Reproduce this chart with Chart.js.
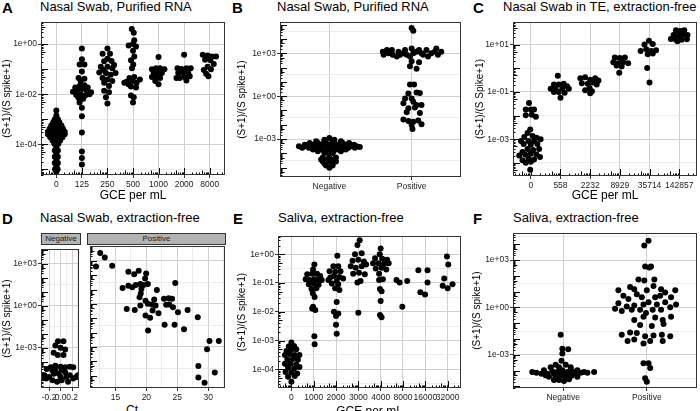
<!DOCTYPE html>
<html>
<head>
<meta charset="utf-8">
<script src="https://cdn.jsdelivr.net/npm/chart.js@4"></script>
<style>
body{margin:0;background:#fff;}
#fig{position:relative;width:700px;height:411px;overflow:hidden;font-family:"Liberation Sans",Arial,sans-serif;}
#fig canvas{position:absolute;}
.lbl{position:absolute;font-size:15px;font-weight:bold;line-height:15px;color:#000;}
.ttl{position:absolute;font-size:13px;line-height:14px;color:#000;white-space:nowrap;}
.strip{position:absolute;background:#b3b3b3;border:1px solid #333;box-sizing:border-box;font-size:8px;text-align:center;line-height:10px;color:#1a1a1a;}
</style>
</head>
<body>
<div id="fig">
  <div class="lbl" style="left:2px;top:0px">A</div><div class="ttl" style="left:40px;top:0px">Nasal Swab, Purified RNA</div>
  <div class="lbl" style="left:232px;top:0px">B</div><div class="ttl" style="left:277px;top:0px">Nasal Swab, Purified RNA</div>
  <div class="lbl" style="left:473px;top:0px">C</div><div class="ttl" style="left:503px;top:0px">Nasal Swab in TE, extraction-free</div>
  <div class="lbl" style="left:2px;top:211px">D</div><div class="ttl" style="left:40px;top:211px">Nasal Swab, extraction-free</div>
  <div class="lbl" style="left:233px;top:211px">E</div><div class="ttl" style="left:278px;top:211px">Saliva, extraction-free</div>
  <div class="lbl" style="left:473px;top:211px">F</div><div class="ttl" style="left:513px;top:211px">Saliva, extraction-free</div>
  <div class="strip" style="left:41px;top:233px;width:40px;height:12px">Negative</div>
  <div class="strip" style="left:87px;top:233px;width:139px;height:12px">Positive</div>
  <div class="ttl" style="left:126px;top:403px;font-size:12px">Ct</div>
</div>
<script>
// values: [offset within group, log10 of (S+1)/(S spike+1)]
const aCats = ['0', '125', '250', '500', '1000', '2000', '8000'];
const a0 = [[0,-2.65],[0,-2.85],[-0.06,-3.0],[0.06,-3.0],[-0.12,-3.12],[0,-3.12],[0.12,-3.12],
  [-0.2,-3.25],[-0.07,-3.25],[0.07,-3.25],[0.2,-3.25],[-0.26,-3.38],[-0.13,-3.38],[0,-3.38],[0.13,-3.38],[0.26,-3.38],
  [-0.33,-3.5],[-0.22,-3.5],[-0.11,-3.5],[0,-3.5],[0.11,-3.5],[0.22,-3.5],[0.33,-3.5],
  [-0.33,-3.6],[-0.2,-3.6],[-0.07,-3.6],[0.07,-3.6],[0.2,-3.6],[0.33,-3.6],
  [-0.24,-3.72],[-0.12,-3.72],[0,-3.72],[0.12,-3.72],[0.24,-3.72],[-0.15,-3.85],[-0.05,-3.85],[0.05,-3.85],[0.15,-3.85],
  [-0.08,-3.98],[0.08,-3.98],[0,-4.12],[-0.06,-4.25],[0.06,-4.25],[0,-4.38],[-0.06,-4.5],[0.06,-4.5],[0,-4.62],
  [-0.06,-4.75],[0.06,-4.75],[0,-4.88],[-0.05,-5.0],[0.05,-5.0],[0,-5.1]];
const a1 = [[0,-0.17],[0,-0.6],[-0.09,-0.81],[0.1,-0.81],[0,-1.09],[-0.13,-1.35],[0.1,-1.38],[-0.05,-1.47],[-0.09,-1.67],[0.1,-1.64],
  [-0.26,-1.73],[0.23,-1.73],[-0.35,-1.9],[-0.18,-1.82],[0,-1.79],[0.19,-1.86],[0.36,-1.92],[-0.22,-2.03],[-0.05,-2.0],[0.13,-2.05],
  [0.3,-2.0],[-0.13,-2.15],[0.05,-2.18],[-0.09,-2.33],[0,-2.54],[0,-2.88],[0,-3.53],[0,-4.29],[0,-4.55],[0,-4.81]];
const a2 = [[0,-0.17],[-0.19,-0.38],[0.1,-0.38],[0,-0.58],[-0.13,-0.68],[0.16,-0.67],[-0.26,-0.9],[0,-0.9],[0.26,-0.83],[-0.16,-1.03],
  [0.19,-0.96],[-0.32,-1.13],[-0.06,-1.15],[0.32,-1.15],[0.13,-1.22],[-0.19,-1.35],[0,-1.41],[0.19,-1.47],[-0.13,-1.54],[0.06,-1.67],
  [-0.13,-1.86],[0.06,-1.92],[-0.06,-2.12],[0,-2.37]];
const a3 = [[-0.05,0.6],[0.03,0.45],[0.05,0.15],[0,0],[-0.17,-0.06],[0.12,-0.1],[0,-0.26],[0.05,-0.49],[-0.08,-0.64],[0.01,-0.81],
  [-0.04,-0.96],[-0.14,-1.35],[0.05,-1.31],[-0.34,-1.54],[-0.25,-1.5],[-0.18,-1.6],[-0.01,-1.47],[0.14,-1.54],[0.27,-1.41],
  [-0.08,-1.69],[0.12,-1.73],[-0.08,-2.05],[0.03,-2.12],[0,-2.33]];
const a4 = [[0,-0.51],[-0.26,-1.0],[-0.1,-0.96],[0.06,-0.96],[0.23,-1.0],[-0.19,-1.15],[0,-1.13],[0.13,-1.15],[-0.26,-1.31],
  [-0.1,-1.28],[0.06,-1.35],[-0.13,-1.47],[0,-1.6]];
const a5 = [[0,-0.42],[-0.26,-0.96],[-0.1,-0.99],[0.09,-0.96],[0.26,-0.96],[-0.23,-1.15],[-0.04,-1.15],[0.16,-1.13],[-0.3,-1.35],
  [-0.17,-1.35],[0.03,-1.32],[0.22,-1.28],[0.09,-1.45]];
const a6 = [[-0.27,-0.42],[-0.08,-0.45],[0.09,-0.49],[0.25,-0.49],[-0.18,-0.62],[0.03,-0.64],[0.16,-0.79],[-0.08,-0.9],
  [-0.23,-1.03],[0.05,-1.0],[-0.14,-1.18],[-0.05,-1.28]];

const bCats = ['Negative', 'Positive'];
const bNeg = [[0,-2.93],[-0.06,-3.05],[0.06,-3.05],[-0.16,-3.15],[-0.06,-3.15],[0.04,-3.15],[0.14,-3.15],
  [-0.24,-3.27],[-0.14,-3.27],[-0.04,-3.27],[0.06,-3.27],[0.16,-3.27],[0.24,-3.27],
  [-0.3,-3.4],[-0.2,-3.4],[-0.1,-3.4],[0,-3.4],[0.1,-3.4],[0.2,-3.4],[0.3,-3.4],
  [-0.37,-3.5],[-0.3,-3.5],[-0.23,-3.5],[-0.16,-3.5],[-0.09,-3.5],[-0.02,-3.5],[0.05,-3.5],[0.12,-3.5],[0.19,-3.5],[0.26,-3.5],[0.33,-3.5],[0.37,-3.55],
  [-0.33,-3.6],[-0.25,-3.6],[-0.17,-3.6],[-0.09,-3.6],[-0.01,-3.6],[0.07,-3.6],[0.15,-3.6],[0.23,-3.6],[0.31,-3.6],
  [-0.2,-3.72],[-0.1,-3.72],[0,-3.72],[0.1,-3.72],[0.2,-3.72],[-0.14,-3.85],[-0.05,-3.85],[0.05,-3.85],[0.14,-3.85],
  [-0.06,-3.98],[0.04,-3.98],[0,-4.12],[-0.08,-4.28],[0,-4.28],[0.08,-4.28],[-0.1,-4.42],[-0.02,-4.42],[0.06,-4.42],
  [-0.08,-4.56],[0,-4.56],[0.08,-4.56],[-0.06,-4.7],[0.04,-4.7],[-0.04,-4.84],[0.04,-4.84],[0,-5.0]];
const bPos = [[0,4.76],[0.02,4.58],[-0.35,3.11],[-0.34,2.89],[-0.3,3.23],[-0.28,3.0],[-0.24,3.23],[-0.23,2.89],[-0.18,2.77],
  [-0.16,3.11],[-0.14,2.89],[-0.1,3.0],[-0.08,3.23],[-0.06,2.89],[-0.02,2.77],[0,3.34],[0.02,3.0],[0.06,3.11],[0.09,3.23],
  [0.12,3.0],[0.14,2.89],[0.18,3.23],[0.2,2.77],[0.24,3.0],[0.28,3.11],[0.3,3.34],[0.32,2.89],[0.36,3.11],
  [0,2.44],[0.09,2.37],[-0.02,2.1],[0.06,1.92],[-0.02,0.81],[0.03,0.81],[-0.04,0.18],[0.06,0.25],[0.1,0.22],
  [-0.08,-0.16],[0,-0.16],[0.02,-0.39],[-0.1,-0.5],[0.06,-0.61],[0.12,-0.61],[-0.04,-0.84],[0.04,-0.79],
  [-0.06,-1.13],[0.1,-1.18],[-0.1,-1.63],[-0.04,-1.74],[0.02,-1.79],[0.08,-1.7],[0.12,-1.97],[0,-2.01],[0.01,-2.3]];

const cCats = ['0', '558', '2232', '8929', '35714', '142857'];
const c0 = [[-0.06,-1.47],[-0.17,-1.74],[0,-1.74],[0.11,-1.74],[-0.17,-1.98],[0.03,-1.96],[0.17,-2.05],[-0.02,-2.59],[-0.11,-2.73],
  [0.06,-2.86],[-0.22,-2.9],[0.19,-2.93],[-0.33,-3.07],[-0.08,-3.07],[0.11,-3.07],[0.33,-3.0],[-0.24,-3.2],[0,-3.23],[0.22,-3.2],
  [-0.11,-3.41],[0.08,-3.45],[0.28,-3.41],[-0.28,-3.54],[-0.19,-3.64],[0,-3.61],[0.19,-3.64],[-0.39,-3.68],[0.31,-3.75],
  [-0.08,-3.81],[0.11,-3.85],[-0.28,-3.88],[-0.17,-3.99],[0,-3.95],[-0.02,-4.29]];
const c1 = [[-0.09,-0.32],[-0.22,-0.69],[-0.06,-0.69],[0.11,-0.65],[0.22,-0.76],[-0.33,-0.87],[-0.17,-0.87],[0.06,-0.87],
  [0.28,-0.87],[-0.22,-1.0],[-0.06,-1.0],[0.14,-1.03],[0,-1.24]];
const c2 = [[-0.33,-0.42],[-0.17,-0.38],[0,-0.49],[0.17,-0.42],[0.28,-0.52],[-0.28,-0.63],[-0.08,-0.65],[0.09,-0.6],[0.22,-0.69],
  [-0.02,-0.83],[-0.17,-0.93],[0.06,-0.97],[0,-1.06]];
const c3 = [[-0.17,0.46],[0,0.43],[0.17,0.46],[-0.22,0.25],[-0.06,0.21],[0.11,0.25],[0.28,0.21],[-0.11,0.12],[0.06,0.08],[-0.02,-0.19]];
const c4 = [[-0.02,1.16],[-0.17,1.0],[0.11,1.03],[-0.3,0.73],[-0.11,0.8],[0.06,0.73],[0.22,0.76],[-0.06,0.59],[0.11,0.62],[-0.08,0.01],[0,-0.6]];
const c5 = [[-0.11,1.61],[0.03,1.57],[0.17,1.61],[-0.19,1.41],[-0.02,1.38],[0.11,1.41],[0.28,1.41],[-0.28,1.24],[-0.11,1.2],
  [0.08,1.2],[0.26,1.23],[-0.06,1.14]];

// panel D: [x, log10 ratio]; negatives sit around 0, positives against Ct
const dNeg = [[-0.045,-2.54],[0.05,-2.54],[-0.09,-2.84],[0,-3.0],[0.08,-3.12],[-0.12,-3.35],[-0.05,-3.51],[0.05,-3.51],
  [-0.17,-4.39],[-0.09,-4.27],[0,-4.34],[0.08,-4.39],[0.16,-4.34],[0.22,-4.39],[-0.24,-4.5],[-0.28,-4.96],[-0.32,-5.08],
  [-0.2,-5.08],[-0.12,-4.84],[-0.03,-4.84],[0.08,-4.73],[0.16,-4.96],[0.27,-5.08],[0.02,-5.31],[-0.06,-5.42],[0.13,-5.42],
  [-0.14,-5.31],[-0.25,-5.19],[0.3,-4.96],[-0.09,-4.62],[0.02,-4.56],[0.1,-5.08],[0.22,-5.19],[0,-5.08],[-0.14,-4.62]];
const dPos = [[12.55,3.55],[13.28,3.23],[11.87,2.6],[14.48,2.65],[17.1,2.23],[18.04,2.07],[18.76,2.3],[19.97,2.12],[19.8,1.77],
  [16.16,1.11],[17.1,1.27],[17.73,1.15],[18.3,1.31],[19.03,1.38],[19.55,1.31],[20.24,1.38],[19.2,1.04],[19.1,0.73],[18.9,0.46],
  [24.67,1.45],[21.7,0.97],[19.86,0.21],[20.24,0],[19.03,-0.12],[20.9,-0.05],[21.5,-0.12],[21.27,0.3],[22.84,0.35],[23.6,0.39],
  [24.15,0.35],[23.2,-0.07],[23.7,-0.05],[24.3,-0.23],[16.83,-0.35],[18.13,-0.42],[21.0,-0.46],[19.86,-0.81],[20.6,-0.97],
  [21.96,-0.65],[25.1,-0.58],[26.66,-0.42],[28.3,-0.93],[22.95,-1.45],[24.56,-1.45],[26.08,-1.76],[20.28,-1.85],[30.2,-2.59],
  [31.7,-2.59],[29.8,-3.16],[28.4,-4.32],[31.05,-4.78],[28.4,-5.12],[29.4,-5.49]];

const eCats = ['0', '1000', '2000', '3000', '4000', '8000', '16000', '32000'];
const e0 = [[0,-3.07],[-0.12,-3.21],[0.12,-3.19],[-0.22,-3.36],[0,-3.32],[0.22,-3.3],[-0.29,-3.5],[-0.07,-3.47],[0.15,-3.5],
  [0.36,-3.5],[-0.18,-3.66],[0.07,-3.64],[0.29,-3.67],[-0.29,-3.81],[-0.03,-3.81],[0.22,-3.84],[-0.15,-3.95],[0.12,-3.98],
  [0.36,-3.92],[-0.26,-4.09],[0,-4.11],[0.26,-4.15],[-0.15,-4.26],[0.15,-4.23],[0,-4.43]];
const e1 = [[0.03,-0.36],[-0.03,-0.53],[-0.29,-0.7],[-0.07,-0.68],[0.15,-0.68],[0.29,-0.76],[-0.36,-0.87],[-0.18,-0.9],[0.03,-0.87],
  [0.22,-0.9],[0.36,-0.9],[-0.22,-1.04],[0,-1.02],[0.22,-1.06],[-0.1,-1.21],[0.12,-1.18],[-0.04,-1.36],[0.04,-1.49],[-0.03,-1.83],
  [0.07,-1.94],[-0.07,-1.89],[0.03,-2.85],[0.04,-3.13]];
const e2 = [[0.06,-0.05],[-0.12,-0.42],[0.1,-0.42],[-0.29,-0.59],[-0.04,-0.61],[0.2,-0.59],[-0.26,-0.81],[-0.09,-0.76],[0.15,-0.79],
  [0.32,-0.84],[-0.34,-0.9],[0.03,-0.93],[-0.19,-1.02],[0.1,-1.04],[-0.04,-1.18],[0.15,-1.24],[0.03,-1.66],[-0.09,-2.0],[0.1,-2.06],
  [0,-2.15],[0,-2.45],[0.03,-2.76]];
const e3 = [[0.06,0.49],[-0.04,0.32],[-0.15,0],[0.15,0.03],[-0.26,-0.23],[0,-0.19],[0.25,-0.25],[-0.34,-0.42],[-0.12,-0.47],
  [0.15,-0.42],[0.35,-0.36],[-0.23,-0.68],[0.03,-0.64],[0.29,-0.7],[-0.04,-0.98],[0.1,-0.93],[0,-2.03]];
const e4 = [[0,0.2],[-0.04,0],[-0.25,-0.14],[0.07,-0.16],[0.29,-0.19],[-0.34,-0.31],[-0.1,-0.31],[0.15,-0.34],[0.36,-0.31],
  [-0.22,-0.5],[0.04,-0.47],[0.25,-0.53],[-0.07,-0.68],[0.1,-0.87],[-0.07,-0.9],[-0.03,-1.21],[0.04,-1.29],[0,-1.63],[-0.03,-2.11],[0.04,-2.19]];
const e5 = [[-0.29,-0.9],[-0.15,-0.98],[0.19,-0.93],[-0.03,-1.83]];
const e6 = [[-0.31,-0.56],[0.1,-0.56],[0.1,-0.98],[-0.22,-1.32],[-0.01,-1.4]];
const e7 = [[-0.03,-0.08],[0.03,-0.36],[-0.15,-0.84],[-0.22,-1.1],[0,-1.18],[0.22,-1.04]];

const fCats = ['Negative', 'Positive'];
const fNeg = [[-0.03,-1.72],[-0.01,-2.61],[0.06,-2.65],[-0.01,-2.91],[-0.02,-3.37],[-0.09,-3.63],[0.03,-3.63],[-0.15,-3.78],
  [-0.05,-3.78],[0.09,-3.78],[-0.37,-4.08],[-0.32,-4.13],[-0.26,-4.19],[-0.23,-3.98],[-0.21,-4.29],[-0.19,-4.19],[-0.13,-4.04],
  [-0.07,-4.08],[-0.01,-3.98],[0.05,-4.08],[0.11,-4.04],[0.17,-3.98],[0.21,-4.13],[0.25,-4.08],[0.29,-4.13],[0.37,-4.08],
  [-0.17,-4.39],[-0.09,-4.39],[-0.03,-4.33],[0.03,-4.39],[0.1,-4.33],[0.17,-4.39],[-0.11,-4.6],[-0.05,-4.6],[0.01,-4.66],
  [0.07,-4.54],[-0.11,-4.2],[0,-4.2],[0.08,-4.22],[0.14,-4.2],[-0.05,-4.2]];
const fPos = [[0.02,4.23],[-0.03,3.92],[-0.02,2.59],[0.03,2.53],[0.05,2.59],[-0.1,1.77],[-0.03,1.71],[0.09,1.77],[-0.34,1.09],
  [-0.2,1.3],[-0.15,1.15],[0,1.09],[0.08,1.36],[0.17,1.15],[0.22,0.95],[0.34,1.09],[-0.28,0.74],[-0.22,0.54],[-0.12,0.84],
  [-0.06,0.64],[0.1,0.64],[0.16,0.74],[0.29,0.64],[-0.34,0.27],[-0.24,0.06],[-0.15,0.12],[-0.04,0.19],[0.02,0.33],[0.12,0.19],
  [0.22,0.33],[0.35,0.19],[-0.38,-0.08],[-0.3,-0.22],[-0.18,-0.14],[-0.08,-0.14],[-0.01,-0.35],[0.07,-0.14],[0.17,-0.14],
  [0.28,0.02],[0.29,-0.59],[-0.15,-0.8],[-0.04,-0.59],[0.1,-0.63],[0.19,-0.8],[-0.08,-1.11],[0.06,-1.17],[0.2,-1.05],
  [-0.2,-1.58],[-0.12,-1.62],[-0.02,-1.83],[0.08,-1.78],[0.18,-1.72],[0.28,-1.83],[-0.3,-1.72],[-0.23,-2.13],[-0.15,-2.03],
  [-0.04,-2.28],[0.04,-2.13],[0.19,-2.13],[-0.04,-3.53],[0.02,-3.53],[0.04,-3.84],[-0.02,-4.49],[0,-4.7]];

const yTitle = '(S+1)/(S spike+1)';
const font = { family: '"Liberation Sans", Arial, sans-serif' };

const fmtExp = v => '1e' + (v < 0 ? '-' : '+') + String(Math.abs(v)).padStart(2, '0');
const groupsToPts = groups => groups.flatMap((g, i) => g.map(([dx, ly]) => ({ x: i + 1 + dx, y: ly })));
const pairsToPts = arr => arr.map(([x, y]) => ({ x, y }));
const range = n => Array.from({ length: n }, (_, i) => i + 1);

// ggplot-style annotation_logticks + panel border
const logTicks = {
  id: 'logTicks',
  afterDatasetsDraw(chart, args, opts) {
    const { ctx, chartArea: a, scales: { x, y } } = chart;
    const len = m => m === 1 ? 7 : (m === 5 ? 4.5 : 2.5);
    ctx.save();
    ctx.strokeStyle = '#000';
    ctx.lineWidth = 1;
    ctx.beginPath();
    if (opts.left) {
      for (let k = Math.floor(y.min) - 1; k <= Math.ceil(y.max); k++) {
        for (let m = 1; m <= 9; m++) {
          const v = k + Math.log10(m);
          if (v < y.min || v > y.max) continue;
          const py = Math.round(y.getPixelForValue(v)) + 0.5;
          ctx.moveTo(a.left, py); ctx.lineTo(a.left + len(m), py);
        }
      }
    }
    if (opts.bottom) {
      for (let k = Math.floor(x.min) - 1; k <= Math.ceil(x.max); k++) {
        for (let m = 1; m <= 9; m++) {
          const v = k + Math.log10(m);
          if (v < x.min || v > x.max) continue;
          const px = Math.round(x.getPixelForValue(v)) + 0.5;
          ctx.moveTo(px, a.bottom); ctx.lineTo(px, a.bottom - len(m));
        }
      }
    }
    ctx.stroke();
    ctx.strokeStyle = '#333';
    ctx.strokeRect(Math.round(a.left) + 0.5, Math.round(a.top) + 0.5, Math.round(a.width) - 1, Math.round(a.height) - 1);
    ctx.restore();
  }
};

function gridFor(majors, ticksOn) {
  const isMaj = c => c.tick && majors.some(m => Math.abs(m - c.tick.value) < 1e-9);
  return {
    color: c => isMaj(c) ? '#cfcfcf' : '#e4e4e4',
    lineWidth: c => isMaj(c) ? 1 : 0.7,
    tickColor: c => isMaj(c) ? '#333' : 'rgba(0,0,0,0)',
    tickLength: 3,
    drawTicks: ticksOn
  };
}

function makePanel(p) {
  const [bl, bt, br, bb] = p.box;
  const [pl, pt, pr, pb] = p.plot;
  const cv = document.createElement('canvas');
  cv.width = br - bl; cv.height = bb - bt;
  cv.style.left = bl + 'px'; cv.style.top = bt + 'px';
  document.getElementById('fig').appendChild(cv);
  const yTicks = p.yMaj.concat(p.yMin).sort((a, b) => a - b);
  const xTicks = p.xMaj.concat(p.xMin || []).sort((a, b) => a - b);
  const showY = p.yLabels !== false;
  new Chart(cv, {
    type: 'scatter',
    data: { datasets: [{ data: p.pts, backgroundColor: '#000', borderWidth: 0, pointRadius: 3, pointHoverRadius: 3 }] },
    options: {
      responsive: false, animation: false, devicePixelRatio: 1, events: [],
      layout: { padding: { top: pt - bt, right: br - pr, left: 0, bottom: 0 } },
      plugins: { legend: { display: false }, tooltip: { enabled: false }, logTicks: { left: true, bottom: !!p.logX } },
      scales: {
        x: {
          type: 'linear', min: p.xmin, max: p.xmax,
          afterBuildTicks: s => { s.ticks = xTicks.map(v => ({ value: v })); },
          afterFit: s => { s.height = bb - pb; },
          ticks: { autoSkip: false, maxRotation: 0, minRotation: 0, padding: 2, color: '#222',
            font: { ...font, size: 8.5 }, callback: v => p.xLabel(v) },
          grid: gridFor(p.xMaj, true),
          border: { display: false },
          title: { display: !!p.xTitle, text: p.xTitle, color: '#000', font: { ...font, size: 12 }, padding: { top: 0, bottom: 1 } }
        },
        y: {
          type: 'linear', min: p.ymin, max: p.ymax,
          afterBuildTicks: s => { s.ticks = yTicks.map(v => ({ value: v })); },
          afterFit: s => { s.width = pl - bl; },
          ticks: { display: showY, autoSkip: false, padding: 1, color: '#222', font: { ...font, size: 8.5 },
            callback: v => p.yMaj.includes(v) ? fmtExp(v) : '' },
          grid: gridFor(p.yMaj, showY),
          border: { display: false },
          title: { display: showY, text: p.yTitle || yTitle, color: '#000', font: { ...font, size: 10 }, padding: { top: 1, bottom: 0 } }
        }
      }
    },
    plugins: [logTicks]
  });
}

const catLabel = cats => v => cats[Math.round(v) - 1] || '';

makePanel({ box: [0, 16, 228, 204], plot: [41, 18, 226, 175], xmin: 0.4, xmax: 7.6, ymin: -5.23, ymax: 0.88,
  yMaj: [-4, -2, 0], yMin: [-5, -3, -1], xMaj: range(aCats.length), xLabel: catLabel(aCats), xTitle: 'GCE per mL', logX: true,
  pts: groupsToPts([a0, a1, a2, a3, a4, a5, a6]) });
makePanel({ box: [235, 16, 464, 192], plot: [280, 18, 462, 177], xmin: 0.4, xmax: 2.6, ymin: -5.65, ymax: 5.18,
  yMaj: [-3, 0, 3], yMin: [-4.5, -1.5, 1.5, 4.5], xMaj: range(2), xLabel: catLabel(bCats),
  pts: groupsToPts([bNeg, bPos]) });
makePanel({ box: [473, 16, 700, 204], plot: [513, 18, 699, 176], xmin: 0.4, xmax: 6.6, ymin: -4.55, ymax: 1.95,
  yMaj: [-3, -1, 1], yMin: [-4, -2, 0], xMaj: range(cCats.length), xLabel: catLabel(cCats), xTitle: 'GCE per mL', logX: true,
  yTitle: '(S+1)/(S Spike+1)', pts: groupsToPts([c0, c1, c2, c3, c4, c5]) });
makePanel({ box: [0, 243, 82, 411], plot: [41, 245, 81, 388], xmin: -0.34, xmax: 0.32, ymin: -5.86, ymax: 4.03,
  yMaj: [-3, 0, 3], yMin: [-4.5, -1.5, 1.5], xMaj: [-0.2, 0, 0.2], xMin: [-0.3, -0.1, 0.1, 0.3],
  xLabel: v => [-0.2, 0, 0.2].some(m => Math.abs(m - v) < 1e-9) ? v.toFixed(1) : '', pts: pairsToPts(dNeg) });
makePanel({ box: [87, 243, 228, 411], plot: [87, 245, 226, 388], xmin: 10.9, xmax: 32.7, ymin: -5.86, ymax: 4.03,
  yMaj: [-3, 0, 3], yMin: [-4.5, -1.5, 1.5], yLabels: false, xMaj: [15, 20, 25, 30], xMin: [12.5, 17.5, 22.5, 27.5, 32.5],
  xLabel: v => [15, 20, 25, 30].includes(v) ? String(v) : '', pts: pairsToPts(dPos) });
makePanel({ box: [235, 230, 464, 420], plot: [278, 232, 462, 388], xmin: 0.4, xmax: 8.6, ymin: -4.65, ymax: 0.63,
  yMaj: [-4, -3, -2, -1, 0], yMin: [-4.5, -3.5, -2.5, -1.5, -0.5], xMaj: range(eCats.length), xLabel: catLabel(eCats),
  xTitle: 'GCE per mL', logX: true, pts: groupsToPts([e0, e1, e2, e3, e4, e5, e6, e7]) });
makePanel({ box: [470, 227, 700, 404], plot: [513, 229, 699, 388], xmin: 0.4, xmax: 2.6, ymin: -5.1, ymax: 4.71,
  yMaj: [-3, 0, 3], yMin: [-4.5, -1.5, 1.5, 4.5], xMaj: range(2), xLabel: catLabel(fCats),
  pts: groupsToPts([fNeg, fPos]) });
</script>
</body>
</html>
